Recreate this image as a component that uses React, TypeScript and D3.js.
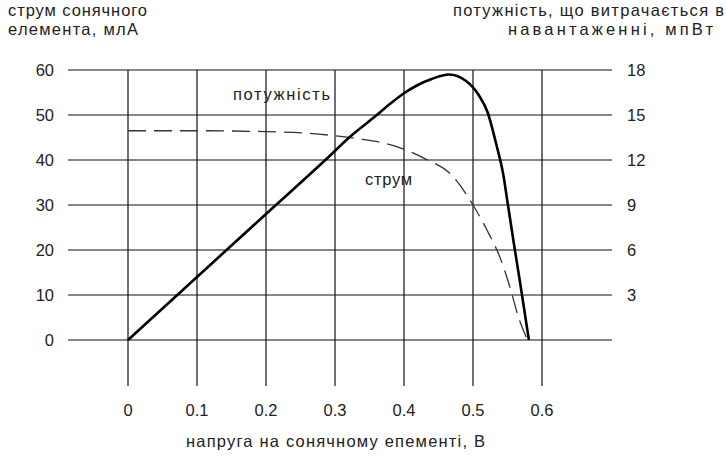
import React, { useRef, useEffect } from "react";
import * as d3 from "d3";

// voltage, V / current, mA (dashed curve)
const currentV = [0, 0.1, 0.2, 0.28, 0.33, 0.38, 0.43, 0.47, 0.5, 0.52, 0.54, 0.555, 0.565, 0.579];
const currentI = [46.5, 46.5, 46.3, 45.7, 44.8, 43.4, 40.3, 36.5, 30, 24.5, 18, 11, 5.5, 0];

// voltage, V / power, mW (solid curve)
const powerV = [0, 0.1, 0.2, 0.286, 0.323, 0.358, 0.38, 0.4, 0.42, 0.44, 0.465, 0.489, 0.508, 0.521, 0.534, 0.544, 0.55, 0.559, 0.568, 0.581];
const powerP = [0, 4.2, 8.4, 12, 13.6, 14.9, 15.75, 16.45, 17, 17.4, 17.7, 17.3, 16.35, 15.2, 13, 11, 9.2, 6.5, 3.9, 0];

const xTicks = [0, 0.1, 0.2, 0.3, 0.4, 0.5, 0.6];
const leftTicks = [0, 10, 20, 30, 40, 50, 60];
const rightTicks = [3, 6, 9, 12, 15, 18];

const FONT = "'Liberation Sans', Arial, sans-serif";

const App = () => {
  const node: any = useRef();

  useEffect(() => {
    const width = 726,
      height = 460;

    const svg = d3.select(node.current);
    svg.selectAll("*").remove();
    svg.attr("width", width).attr("height", height);

    const x = d3.scaleLinear().domain([0, 0.6]).range([128, 542]);
    const yLeft = d3.scaleLinear().domain([0, 60]).range([340, 70]);
    const yRight = d3.scaleLinear().domain([0, 18]).range([340, 70]);

    const ink = "#111";

    // grid
    const grid = svg.append("g").attr("stroke", ink).attr("stroke-width", 1.2);
    grid
      .selectAll("line.h")
      .data(leftTicks)
      .enter()
      .append("line")
      .attr("x1", 68)
      .attr("x2", 612)
      .attr("y1", d => yLeft(d))
      .attr("y2", d => yLeft(d));
    grid
      .selectAll("line.v")
      .data(xTicks)
      .enter()
      .append("line")
      .attr("x1", d => x(d))
      .attr("x2", d => x(d))
      .attr("y1", yLeft(60))
      .attr("y2", 386);

    const text = svg
      .append("g")
      .attr("font-family", FONT)
      .attr("font-size", 16.5)
      .attr("fill", "#222");

    // left tick labels
    text
      .selectAll("text.l")
      .data(leftTicks)
      .enter()
      .append("text")
      .attr("x", 54)
      .attr("y", d => yLeft(d) + 6)
      .attr("text-anchor", "end")
      .text(d => d);

    // right tick labels
    text
      .selectAll("text.r")
      .data(rightTicks)
      .enter()
      .append("text")
      .attr("x", 627)
      .attr("y", d => yRight(d) + 6)
      .text(d => d);

    // bottom tick labels
    text
      .selectAll("text.b")
      .data(xTicks)
      .enter()
      .append("text")
      .attr("x", d => x(d))
      .attr("y", 416)
      .attr("text-anchor", "middle")
      .text(d => d);

    // titles and curve labels: [text, x, y, width]
    const labels: [string, number, number, number][] = [
      ["струм сонячного", 8, 16, 139],
      ["елемента, млА", 8, 35, 130],
      ["потужність, що витрачається в", 453, 16, 271],
      ["навантаженні, мпВт", 508, 35, 205],
      ["напруга на сонячному епементі, В", 186, 447, 299],
      ["потужність", 233, 100, 97],
      ["струм", 365, 185, 47]
    ];
    text
      .selectAll("text.t")
      .data(labels)
      .enter()
      .append("text")
      .attr("x", d => d[1])
      .attr("y", d => d[2])
      .attr("textLength", d => d[3])
      .attr("lengthAdjust", "spacing")
      .text(d => d[0]);

    // current curve
    const currentLine = d3
      .line<number>()
      .x(d => x(d))
      .y((_, i) => yLeft(currentI[i]))
      .curve(d3.curveMonotoneX);
    svg
      .append("path")
      .attr("d", currentLine(currentV))
      .attr("fill", "none")
      .attr("stroke", "#333")
      .attr("stroke-width", 1.3)
      .attr("stroke-dasharray", "18,8");

    // power curve
    const powerLine = d3
      .line<number>()
      .x(d => x(d))
      .y((_, i) => yRight(powerP[i]))
      .curve(d3.curveMonotoneX);
    svg
      .append("path")
      .attr("d", powerLine(powerV))
      .attr("fill", "none")
      .attr("stroke", "#000")
      .attr("stroke-width", 2.6);
  }, []);

  return (
    <div style={{ position: "absolute", left: 0, top: 0 }}>
      <svg ref={node}></svg>
    </div>
  );
};

export default App;
